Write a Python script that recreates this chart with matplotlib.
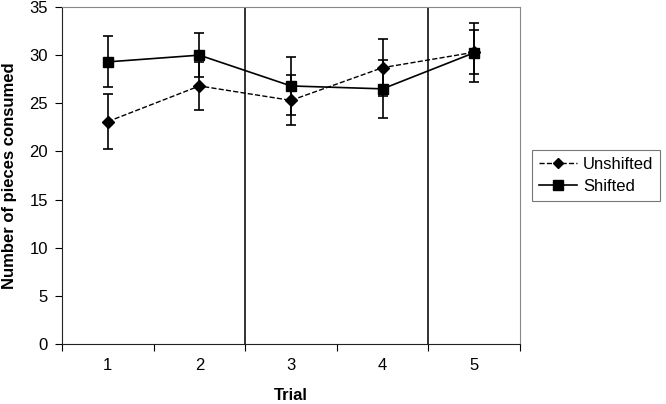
import matplotlib.pyplot as plt
import numpy as np
from matplotlib.lines import Line2D

plt.rcParams["font.family"] = ["Liberation Sans", "DejaVu Sans"]
plt.rcParams["font.size"] = 12

trials = [1, 2, 3, 4, 5]
unshifted = [23.1, 26.8, 25.3, 28.7, 30.3]
unshifted_err = [2.85, 2.5, 2.6, 2.95, 2.3]
shifted = [29.3, 30.0, 26.8, 26.5, 30.25]
shifted_err = [2.65, 2.3, 3.0, 3.0, 3.05]
phase_breaks = [2.5, 4.5]

fig = plt.figure(figsize=(6.66, 4.04), dpi=100)
ax = fig.add_axes([62 / 666, 60 / 404, 458 / 666, 337 / 404])

x = np.array(trials)
ax.errorbar(x, unshifted, yerr=unshifted_err, color='black', ls='--', lw=1,
            marker='D', ms=6, capsize=3.5, elinewidth=1.2, capthick=1.2)
ax.errorbar(x, shifted, yerr=shifted_err, color='black', ls='-', lw=1.2,
            marker='s', ms=7.5, capsize=3.5, elinewidth=1.2, capthick=1.2)

for b in phase_breaks:
    ax.axvline(b, color='#222222', lw=1.3)

ax.set_xlim(0.5, 5.5)
ax.set_ylim(0, 35)
ax.set_yticks(np.arange(0, 36, 5))
ax.set_xticks(np.arange(0.5, 6, 1))
ax.set_xticklabels([])
ax.set_xticks(x, minor=True)
ax.set_xticklabels([str(t) for t in trials], minor=True)
ax.tick_params(axis='x', which='major', length=5, direction='out')
ax.tick_params(axis='x', which='minor', length=0, pad=10, labelsize=12)
ax.tick_params(axis='y', length=5, direction='out', labelsize=12, pad=5)

for s in ['top', 'right']:
    ax.spines[s].set_color('#888888')
for s in ['left', 'bottom']:
    ax.spines[s].set_color('#222222')

ax.set_xlabel('Trial', fontweight='bold', labelpad=11)
ax.set_ylabel('Number of pieces consumed', fontweight='bold', labelpad=9)

handles = [
    Line2D([], [], color='black', ls='--', lw=1, marker='D', ms=5),
    Line2D([], [], color='black', ls='-', lw=1.2, marker='s', ms=6.5),
]
leg = fig.legend(handles, ['Unshifted', 'Shifted'], loc='upper left',
                 bbox_to_anchor=(532 / 666, 1 - 150 / 404),
                 fancybox=False, edgecolor='#555555', handlelength=2.3,
                 handletextpad=0.35, borderpad=0.4, labelspacing=0.45,
                 fontsize=12, borderaxespad=0)
leg.get_frame().set_linewidth(0.8)

fig.savefig('out.png', dpi=100)
